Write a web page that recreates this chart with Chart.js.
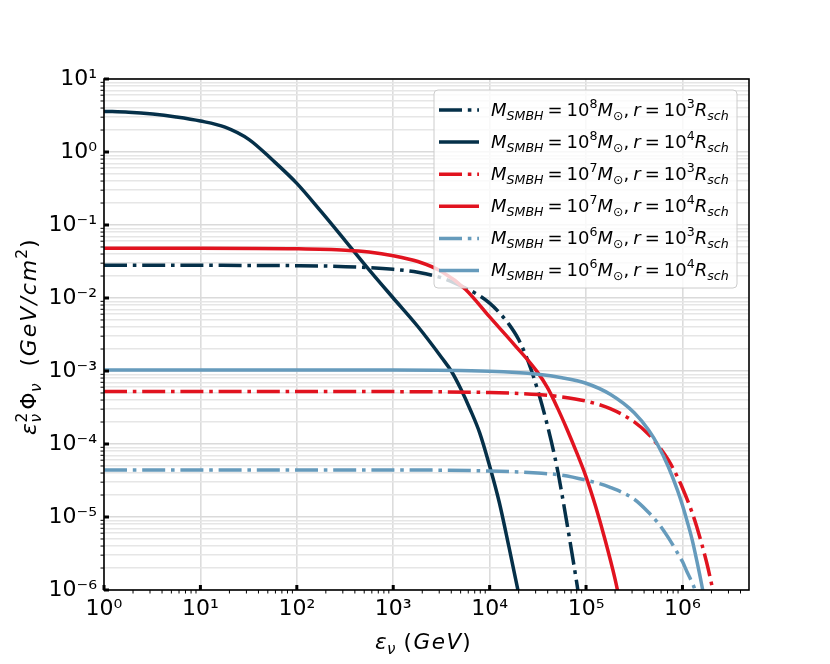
<!DOCTYPE html>
<html>
<head>
<meta charset="utf-8">
<script src="https://cdn.jsdelivr.net/npm/chart.js@4.4.1/dist/chart.umd.min.js"></script>
<style>
  html, body { margin: 0; padding: 0; background: #fff; }
  #wrap { width: 830px; height: 664px; }
</style>
</head>
<body>
<div id="wrap"><canvas id="chartCanvas" width="830" height="664"></canvas></div>
<script>
// neutrino energy (GeV) and flux values, one pair per curve
const eM8r3 = [1, 10, 100, 320, 1000, 1800, 3200, 5600, 7900, 10000, 12600, 15800, 20000, 25100, 31600, 39800, 50100, 63100, 79400, 89100];
const fM8r3 = [0.028, 0.028, 0.0277, 0.0269, 0.0247, 0.0225, 0.0188, 0.0137, 0.0107, 0.0085, 0.0063, 0.0044, 0.0027, 0.00135, 5.4e-4, 1.78e-4, 4.7e-5, 8.5e-6, 1.35e-6, 5e-7];

const eM8r4 = [1, 1.8, 3.2, 5.6, 10, 18, 32, 56, 100, 180, 320, 560, 1000, 1800, 3200, 4000, 5000, 6300, 7900, 10000, 12600, 15800, 20000];
const fM8r4 = [3.6, 3.51, 3.31, 3.02, 2.66, 2.19, 1.48, 0.776, 0.372, 0.151, 0.0603, 0.0245, 0.01, 0.00407, 0.00151, 0.001, 5.75e-4, 2.95e-4, 1.41e-4, 5.0e-5, 1.58e-5, 3.98e-6, 8.9e-7];

const eM7r3 = [1, 100, 1000, 10000, 17800, 31600, 56200, 100000, 178000, 316000, 447000, 562000, 708000, 891000, 1000000, 1260000, 1410000, 1780000, 2000000, 2240000];
const fM7r3 = [5.24e-4, 5.24e-4, 5.22e-4, 5.08e-4, 4.96e-4, 4.76e-4, 4.42e-4, 3.87e-4, 3.05e-4, 2.01e-4, 1.35e-4, 9.5e-5, 6.15e-5, 3.5e-5, 2.5e-5, 1.15e-5, 7.3e-6, 2.4e-6, 1.22e-6, 5.9e-7];

const eM7r4 = [1, 10, 100, 320, 560, 1000, 1800, 3200, 5600, 10000, 17800, 31600, 39800, 50100, 63100, 79400, 100000, 126000, 158000, 200000, 224000];
const fM7r4 = [0.048, 0.048, 0.0472, 0.0452, 0.0427, 0.038, 0.0316, 0.0229, 0.0132, 0.0055, 0.00234, 9.5e-4, 5.9e-4, 3.2e-4, 1.62e-4, 7.8e-5, 3.55e-5, 1.38e-5, 4.8e-6, 1.41e-6, 7e-7];

const eM6r3 = [1, 1000, 10000, 31600, 56200, 100000, 178000, 316000, 447000, 562000, 708000, 891000, 1000000, 1120000, 1260000, 1350000, 1450000];
const fM6r3 = [4.4e-5, 4.4e-5, 4.27e-5, 4.0e-5, 3.75e-5, 3.2e-5, 2.55e-5, 1.75e-5, 1.15e-5, 8.2e-6, 5.3e-6, 3.2e-6, 2.45e-6, 1.75e-6, 1.26e-6, 1.0e-6, 7e-7];

const eM6r4 = [1, 1000, 10000, 31600, 56200, 100000, 178000, 316000, 447000, 562000, 708000, 891000, 1000000, 1120000, 1260000, 1410000, 1580000, 1780000];
const fM6r4 = [1.03e-3, 1.03e-3, 9.9e-4, 9.0e-4, 8.1e-4, 6.8e-4, 4.8e-4, 2.68e-4, 1.54e-4, 9.4e-5, 5.0e-5, 2.3e-5, 1.45e-5, 8.7e-6, 4.9e-6, 2.5e-6, 1.2e-6, 5.0e-7];

const massExp = [8, 8, 7, 7, 6, 6];
const radiusExp = [3, 4, 3, 4, 3, 4];
const lineColors = ['#053049', '#053049', '#e1131f', '#e1131f', '#669bbc', '#669bbc'];
const isDashDot = [true, false, true, false, true, false];

const xMin = 1, xMax = 4.9e6, yMin = 1e-6, yMax = 10;

const energies = [eM8r3, eM8r4, eM7r3, eM7r4, eM6r3, eM6r4];
const fluxes = [fM8r3, fM8r4, fM7r3, fM7r4, fM6r3, fM6r4];

const FONT = '"DejaVu Sans", "Liberation Sans", sans-serif';
const supMap = { '0': '⁰', '1': '¹', '2': '²', '3': '³', '4': '⁴', '5': '⁵', '6': '⁶', '7': '⁷', '8': '⁸', '9': '⁹', '-': '⁻' };
const toSup = s => String(s).split('').map(c => supMap[c]).join('');

// 1..9 x 10^k ticks, powers of ten marked major
function logTicks(lo, hi) {
  const out = [];
  for (let k = Math.floor(Math.log10(lo)); k <= Math.ceil(Math.log10(hi)); k++) {
    for (let m = 1; m <= 9; m++) {
      const v = m * Math.pow(10, k);
      if (v >= lo * 0.999 && v <= hi * 1.001) out.push({ value: v, major: m === 1 });
    }
  }
  return out;
}

function tickLabel(value, index, ticks) {
  if (!ticks[index].major) return '';
  return '10' + toSup(Math.round(Math.log10(value)));
}

// small rich-text writer for sub/superscripts
function fontOf(p) {
  return (p.it ? 'italic ' : '') + p.s + 'px ' + FONT;
}
function layoutRich(ctx, parts, x, y, draw) {
  let cx = x, lastStart = x;
  parts.forEach(p => {
    ctx.font = fontOf(p);
    const sx = p.stack ? lastStart : cx + (p.pad || 0);
    let ex = sx;
    if (p.ls) {
      p.t.split('').forEach((ch, k) => {
        if (draw) ctx.fillText(ch, ex, y + (p.dy || 0));
        ex += ctx.measureText(ch).width + (k < p.t.length - 1 ? p.ls : 0);
      });
    } else {
      if (draw) ctx.fillText(p.t, sx, y + (p.dy || 0));
      ex = sx + ctx.measureText(p.t).width;
    }
    lastStart = sx;
    cx = p.stack ? Math.max(cx, ex) : ex;
  });
  return cx - x;
}
const drawRich = (ctx, parts, x, y) => layoutRich(ctx, parts, x, y, true);

function legendParts(m, r) {
  const B = 18, S = 12.6;
  return [
    { t: 'M', it: 1, s: B },
    { t: 'SMBH', it: 1, s: S, dy: 4 },
    { t: '=', s: B, pad: 4 },
    { t: '10', s: B, pad: 4 },
    { t: String(m), s: S, dy: -8 },
    { t: 'M', it: 1, s: B },
    { t: '⊙', s: S, dy: 4 },
    { t: ',', s: B },
    { t: 'r', it: 1, s: B, pad: 4 },
    { t: '=', s: B, pad: 4 },
    { t: '10', s: B, pad: 4 },
    { t: String(r), s: S, dy: -8 },
    { t: 'R', it: 1, s: B },
    { t: 'sch', it: 1, s: S, dy: 4 }
  ];
}

const xTitle = [
  { t: 'ε', it: 1, s: 21.5 },
  { t: 'ν', it: 1, s: 15, dy: 5, pad: 0.5 },
  { t: '(', s: 21.5, pad: 8 },
  { t: 'GeV', it: 1, s: 21.5, ls: 1.6, pad: 1.5 },
  { t: ')', s: 21.5, pad: 1 }
];
const yTitle = [
  { t: 'ε', it: 1, s: 22 },
  { t: 'ν', it: 1, s: 15.4, dy: 5, pad: 0.5 },
  { t: '2', s: 15.4, dy: -9, stack: true },
  { t: 'Φ', s: 22, pad: 3 },
  { t: 'ν', it: 1, s: 15.4, dy: 5, pad: 0.5 },
  { t: '(', s: 22, pad: 17 },
  { t: 'GeV/cm', it: 1, s: 22, ls: 2, pad: 1.5 },
  { t: '2', s: 15.4, dy: -9, pad: 1 },
  { t: ')', s: 22, pad: 1 }
];

const frame = {
  id: 'frame',
  afterDatasetsDraw(chart) {
    const { ctx, chartArea: a, scales } = chart;
    ctx.save();
    ctx.strokeStyle = '#000';
    scales.x.ticks.forEach(t => {
      const px = scales.x.getPixelForValue(t.value);
      ctx.beginPath();
      if (t.major) { ctx.lineWidth = 3; ctx.moveTo(px, a.bottom); ctx.lineTo(px, a.bottom - 5); }
      else { ctx.lineWidth = 1; ctx.moveTo(px, a.bottom); ctx.lineTo(px, a.bottom + 3.5); }
      ctx.stroke();
    });
    scales.y.ticks.forEach(t => {
      const py = scales.y.getPixelForValue(t.value);
      ctx.beginPath();
      if (t.major) { ctx.lineWidth = 3; ctx.moveTo(a.left, py); ctx.lineTo(a.left + 5, py); }
      else { ctx.lineWidth = 1; ctx.moveTo(a.left, py); ctx.lineTo(a.left - 3.5, py); }
      ctx.stroke();
    });
    ctx.lineWidth = 1.6;
    ctx.strokeRect(a.left, a.top, a.right - a.left, a.bottom - a.top);
    ctx.restore();
  },
  afterDraw(chart) {
    const { ctx } = chart;
    ctx.save();
    ctx.fillStyle = '#000';
    ctx.textBaseline = 'alphabetic';
    // axis titles
    drawRich(ctx, xTitle, 375, 649);
    ctx.save();
    ctx.translate(36, 435);
    ctx.rotate(-Math.PI / 2);
    drawRich(ctx, yTitle, 0, 0);
    ctx.restore();

    // legend box
    const bx = 434, by = 90, bw = 303, bh = 198;
    ctx.beginPath();
    ctx.roundRect(bx, by, bw, bh, 4);
    ctx.fillStyle = 'rgba(255,255,255,0.8)';
    ctx.fill();
    ctx.strokeStyle = '#cccccc';
    ctx.lineWidth = 1;
    ctx.stroke();
    chart.data.datasets.forEach((ds, i) => {
      const ry = 110 + i * 32.1;
      ctx.beginPath();
      ctx.strokeStyle = ds.borderColor;
      ctx.lineWidth = ds.borderWidth;
      ctx.setLineDash(ds.borderDash || []);
      ctx.moveTo(439, ry);
      ctx.lineTo(479, ry);
      ctx.stroke();
      ctx.setLineDash([]);
      ctx.fillStyle = '#000';
      drawRich(ctx, legendParts(massExp[i], radiusExp[i]), 491, ry + 5.5);
    });
    ctx.restore();
  }
};

const datasets = energies.map((e, i) => ({
  label: 'M_SMBH = 10^' + massExp[i] + ' Msun, r = 10^' + radiusExp[i] + ' R_sch',
  data: e.map((v, j) => ({ x: v, y: fluxes[i][j] })),
  borderColor: lineColors[i],
  backgroundColor: lineColors[i],
  borderWidth: 3.5,
  borderDash: isDashDot[i] ? [23, 5.8, 3.6, 5.8] : [],
  borderCapStyle: 'butt',
  cubicInterpolationMode: 'monotone',
  pointRadius: 0,
  fill: false,
  clip: 0,
  order: 6 - i
}));

const ctx = document.getElementById('chartCanvas').getContext('2d');
const chart = new Chart(ctx, {
  type: 'line',
  data: { datasets: datasets },
  plugins: [frame],
  options: {
    responsive: false,
    animation: false,
    layout: { padding: { top: 79, right: 81, left: 0, bottom: 0 } },
    plugins: { legend: { display: false }, tooltip: { enabled: false } },
    scales: {
      x: {
        type: 'logarithmic',
        min: xMin,
        max: xMax,
        afterBuildTicks: axis => { axis.ticks = logTicks(xMin, xMax); },
        afterFit: axis => { axis.height = 74; },
        ticks: {
          autoSkip: false,
          maxRotation: 0,
          minRotation: 0,
          padding: 6,
          color: '#000',
          font: { family: FONT, size: 22 },
          callback: tickLabel
        },
        grid: {
          drawTicks: false,
          lineWidth: 1.6,
          color: c => (c.tick && c.tick.major ? '#dcdcdc' : 'rgba(0,0,0,0)')
        },
        border: { display: false }
      },
      y: {
        type: 'logarithmic',
        min: yMin,
        max: yMax,
        afterBuildTicks: axis => { axis.ticks = logTicks(yMin, yMax); },
        afterFit: axis => { axis.width = 104; },
        ticks: {
          autoSkip: false,
          padding: 7,
          color: '#000',
          font: { family: FONT, size: 22 },
          callback: tickLabel
        },
        grid: {
          drawTicks: false,
          lineWidth: 1.5,
          color: c => (c.tick && c.tick.major ? '#dadada' : '#e6e6e6')
        },
        border: { display: false }
      }
    }
  }
});
</script>
</body>
</html>
